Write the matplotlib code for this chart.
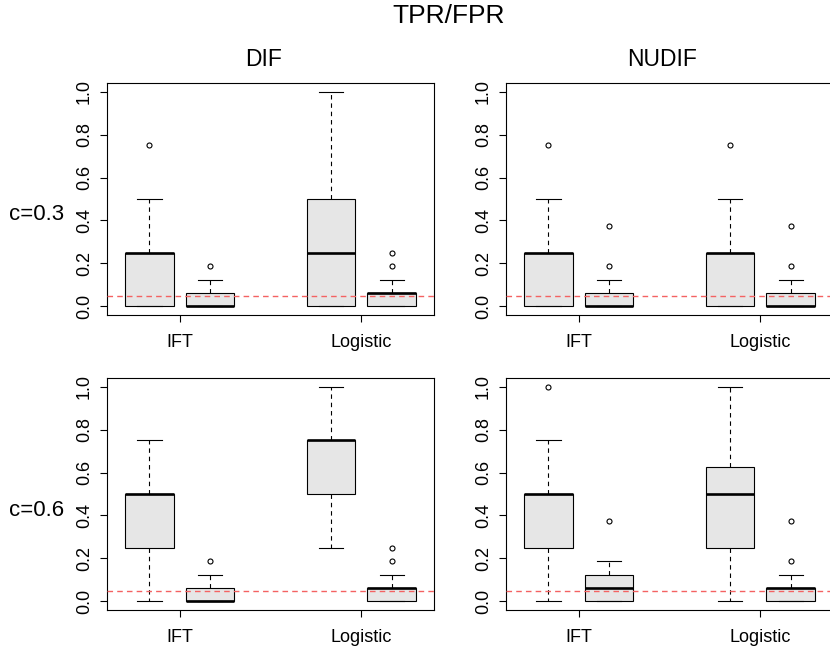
import numpy as np
import matplotlib
matplotlib.use("Agg")
import matplotlib.pyplot as plt

plt.rcParams['font.family'] = ['Liberation Sans', 'DejaVu Sans']

# box positions: IFT (TPR, FPR), Logistic (TPR, FPR)
positions = [1, 2, 4, 5]
group_ticks = [1.5, 4.5]
group_labels = ["IFT", "Logistic"]
col_titles = ["DIF", "NUDIF"]
row_titles = ["c=0.3", "c=0.6"]
fpr_ref = 0.05

# five-number summaries per box: [whislo, q1, med, q3, whishi]
dif_03 = [[0, 0, 0.25, 0.25, 0.5],
          [0, 0, 0, 0.0625, 0.125],
          [0, 0, 0.25, 0.5, 1.0],
          [0, 0, 0.0625, 0.0625, 0.125]]
dif_03_out = [[0.75], [0.1875], [], [0.1875, 0.25]]

nudif_03 = [[0, 0, 0.25, 0.25, 0.5],
            [0, 0, 0, 0.0625, 0.125],
            [0, 0, 0.25, 0.25, 0.5],
            [0, 0, 0, 0.0625, 0.125]]
nudif_03_out = [[0.75], [0.1875, 0.375], [0.75], [0.1875, 0.375]]

dif_06 = [[0, 0.25, 0.5, 0.5, 0.75],
          [0, 0, 0, 0.0625, 0.125],
          [0.25, 0.5, 0.75, 0.75, 1.0],
          [0, 0, 0.0625, 0.0625, 0.125]]
dif_06_out = [[], [0.1875], [], [0.1875, 0.25]]

nudif_06 = [[0, 0.25, 0.5, 0.5, 0.75],
            [0, 0, 0.0625, 0.125, 0.1875],
            [0, 0.25, 0.5, 0.625, 1.0],
            [0, 0, 0.0625, 0.0625, 0.125]]
nudif_06_out = [[1.0], [0.375], [], [0.1875, 0.375]]

panels = [[(dif_03, dif_03_out), (nudif_03, nudif_03_out)],
          [(dif_06, dif_06_out), (nudif_06, nudif_06_out)]]

W, H = 830, 652
fig = plt.figure(figsize=(W / 100, H / 100), dpi=100)

lefts = [107, 506]
tops = [83, 378]
pw, ph = 327, 232


def make_stats(summ, outs):
    stats = []
    for s, o in zip(summ, outs):
        stats.append(dict(whislo=s[0], q1=s[1], med=s[2], q3=s[3], whishi=s[4], fliers=o))
    return stats


for r in range(2):
    for c in range(2):
        summ, outs = panels[r][c]
        ax = fig.add_axes([lefts[c] / W, (H - tops[r] - ph) / H, pw / W, ph / H])
        ax.bxp(make_stats(summ, outs), positions=positions, widths=0.8,
               patch_artist=True, showfliers=True,
               boxprops=dict(facecolor='#e6e6e6', edgecolor='black', linewidth=0.8),
               medianprops=dict(color='black', linewidth=1.9, solid_capstyle='butt'),
               whiskerprops=dict(color='black', linewidth=0.8, linestyle=(0, (4, 3.5))),
               capprops=dict(color='black', linewidth=0.8),
               flierprops=dict(marker='o', markersize=3.6, markerfacecolor='none',
                               markeredgecolor='black', markeredgewidth=0.8))
        ax.axhline(fpr_ref, color='#f46262', linewidth=1.0, linestyle=(0, (4, 3)), zorder=5)
        ax.set_xlim(0.3, 5.7)
        ax.set_ylim(-0.04, 1.04)
        ax.set_yticks([0, 0.2, 0.4, 0.6, 0.8, 1.0])
        ax.set_yticklabels(["0.0", "0.2", "0.4", "0.6", "0.8", "1.0"], rotation=90, va='center')
        ax.set_xticks(group_ticks)
        ax.set_xticklabels(group_labels)
        ax.tick_params(axis='both', direction='out', length=5, width=0.8, labelsize=13)
        ax.tick_params(axis='y', pad=5)
        ax.tick_params(axis='x', pad=9)
        for sp in ax.spines.values():
            sp.set_linewidth(0.8)

fig.text(449 / W, 1 - 16 / H, "TPR/FPR", ha='center', va='center', fontsize=19)
fig.text(264 / W, 1 - 59 / H, col_titles[0], ha='center', va='center', fontsize=16.5)
fig.text(662 / W, 1 - 59 / H, col_titles[1], ha='center', va='center', fontsize=16.5)
fig.text(37 / W, 1 - 215 / H, row_titles[0], ha='center', va='center', fontsize=16)
fig.text(37 / W, 1 - 511 / H, row_titles[1], ha='center', va='center', fontsize=16)

fig.savefig("out.png", dpi=100)
